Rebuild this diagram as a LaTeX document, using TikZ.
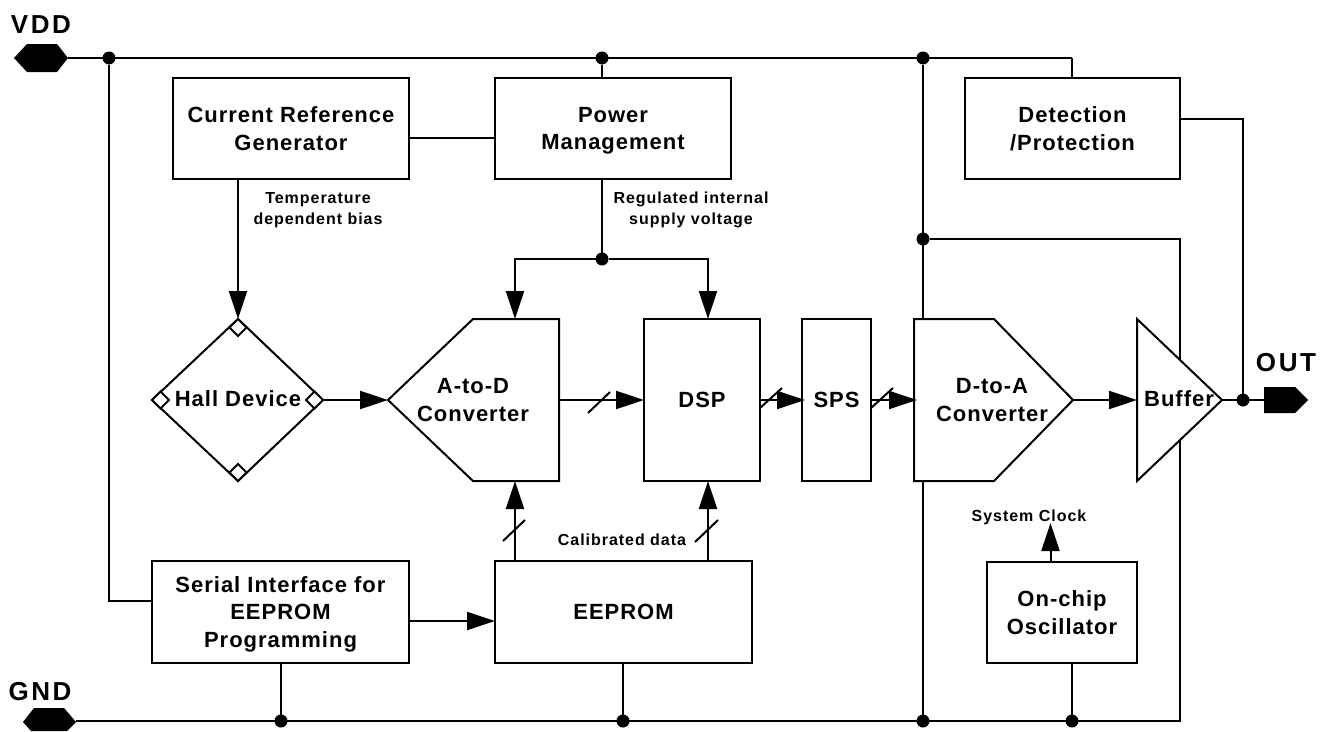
\documentclass[tikz,border=0pt]{standalone}
\usepackage{fontspec}
\setmainfont{Liberation Sans}
\newfontfamily\boxfam{Liberation Sans}[LetterSpace=4.5]
\newfontfamily\notefam{Liberation Sans}[LetterSpace=6]
\newfontfamily\pinfam{Liberation Sans}[LetterSpace=10]
\newcommand{\nodepth}[1]{\raisebox{0pt}[\height][0pt]{#1}}
\usetikzlibrary{arrows.meta,calc}
\tikzset{
  wire/.style={line width=2pt,line cap=butt,line join=miter},
  flow/.style={wire,-{Triangle[length=28pt,width=18pt]}},
  slash/.style={line width=2pt},
  boxnode/.style={draw=black,fill=white,line width=2pt,outer sep=0pt,inner sep=0pt,align=center,
    font=\boxfam\fontsize{22}{27.5}\selectfont\bfseries},
  shapetxt/.style={outer sep=0pt,inner sep=0pt,align=center,font=\boxfam\fontsize{22}{27.5}\selectfont\bfseries},
  outline/.style={draw=black,fill=white,line width=2pt,line join=miter},
  note/.style={inner sep=0pt,align=center,font=\notefam\fontsize{16}{21}\selectfont\bfseries},
  pin/.style={inner sep=0pt,font=\pinfam\fontsize{26}{26}\selectfont\bfseries},
  dot/.style={circle,fill=black,inner sep=0pt,minimum size=13pt,outer sep=0pt},
  small/.style={draw=black,fill=white,line width=2pt,line join=miter},
}
\begin{document}
\begin{tikzpicture}[x=1pt,y=-1pt]
\useasboundingbox (0,0) rectangle (1329,731);
\fill[white] (0,0) rectangle (1329,731);

% junctions and free ends
\node[dot] (j1) at (109,58) {};
\node[dot] (j2) at (602,58) {};
\node[dot] (j3) at (923,58) {};
\coordinate (j4) at (1072,58);
\node[dot] (j5) at (923,239) {};
\node[dot] (j6) at (602,259) {};
\node[dot] (j7) at (281,721) {};
\node[dot] (j8) at (623,721) {};
\node[dot] (j9) at (923,721) {};
\node[dot] (j10) at (1072,721) {};
\node[dot] (j11) at (1243,400) {};
\coordinate (vddp) at (68,58);
\coordinate (gndp) at (76,721);
\coordinate (outp) at (1264,400);
\coordinate (nw) at (1180,239);
\coordinate (ne) at (1180,721);
\coordinate (ck) at (1050.5,523);
\coordinate (hallT) at (238,319);
\coordinate (hallR) at (323,400);
\coordinate (adcL) at (388,400);
\coordinate (adcR) at (559,400);
\coordinate (adcT) at (515,319);
\coordinate (adcB) at (515,481);
\coordinate (dacR) at (1073,400);
\coordinate (dacL) at (914,400);
\coordinate (bufL) at (1137,400);
\coordinate (bufR) at (1222,400);

% background wires that shapes cover
\draw[wire] (vddp) -- (j4);
\draw[wire] (gndp) -- (ne) -- (nw) -- (j5);
\draw[wire] (j3) -- (j9);

% boxes
\node[boxnode,minimum width=236pt,minimum height=101pt] (crg) at (291,128.5) {Current Reference\\Generator};
\node[boxnode,minimum width=236pt,minimum height=101pt] (pm) at (613,128.5) {Power\\\nodepth{Management}};
\node[boxnode,minimum width=215pt,minimum height=101pt] (det) at (1072.5,128.5) {Detection\\/Protection};
\node[boxnode,minimum width=116pt,minimum height=162pt] (dsp) at (702,400) {DSP};
\node[boxnode,minimum width=69pt,minimum height=162pt] (sps) at (836.5,400) {SPS};
\node[boxnode,minimum width=257pt,minimum height=102pt] (ser) at (280.5,612) {Serial Interface for\\EEPROM\\\nodepth{Programming}};
\node[boxnode,minimum width=257pt,minimum height=102pt] (eep) at (623.5,612) {EEPROM};
\node[boxnode,minimum width=150pt,minimum height=101pt] (osc) at (1062,612.5) {On-chip\\Oscillator};

% shapes
\draw[outline] (152,400) -- (238,319) -- (323,400) -- (238,481) -- cycle;
\draw[small] (238,319) -- (246.5,327.5) -- (238,336) -- (229.5,327.5) -- cycle;
\draw[small] (238,481) -- (246.5,472.5) -- (238,464) -- (229.5,472.5) -- cycle;
\draw[small] (152,400) -- (160.5,391.5) -- (169,400) -- (160.5,408.5) -- cycle;
\draw[small] (323,400) -- (314.5,391.5) -- (306,400) -- (314.5,408.5) -- cycle;
\node[shapetxt] (hall) at (238,399) {Hall Device};
\draw[outline] (388,400) -- (473,319) -- (559,319) -- (559,481) -- (473,481) -- cycle;
\node[shapetxt] (adc) at (473,400) {A-to-D\\Converter};
\draw[outline] (914,319) -- (994,319) -- (1073,400) -- (994,481) -- (914,481) -- cycle;
\node[shapetxt] (dac) at (992,400) {D-to-A\\Converter};
\draw[outline] (1137,319) -- (1222,400) -- (1137,481) -- cycle;
\node[shapetxt] (buf) at (1179,399) {Buffer};

% ports
\fill (14,58) -- (27,44) -- (57,44) -- (68,58) -- (57,72) -- (27,72) -- cycle;
\fill (23,722) -- (34,708) -- (64,708) -- (76,722) -- (67,731) -- (31,731) -- cycle;
\fill (1264,387) -- (1295,387) -- (1308,400) -- (1295,413) -- (1264,413) -- cycle;
\node[pin] (vdd) at (41,25) {VDD};
\node[pin] (gnd) at (40,692) {GND};
\node[pin] (out) at (1286,363) {OUT};

% connectors
\draw[wire] (j1) |- ($(ser.north west)!0.39!(ser.south west)$);
\draw[wire] (j2) -- (j2 |- pm.north);
\draw[wire] (j4) -- (j4 |- det.north);
\draw[wire] (crg.east |- 0,138) -- (pm.west |- 0,138);
\draw[wire] (det.east |- 0,119) -| (j11);
\draw[flow] (crg.south -| hallT) -- (hallT);
\draw[wire] (pm.south -| j6) -- (j6);
\draw[flow] (j6) -| (adcT);
\draw[flow] (j6) -| (dsp.north -| 708,0);
\draw[flow] (hallR) -- (adcL);
\draw[flow] (adcR) -- (dsp.west);
\draw[flow,shorten >=-3pt] (dsp.east) -- (sps.west);
\draw[flow,shorten >=-3pt] (sps.east) -- (dacL);
\draw[flow] (dacR) -- (bufL);
\draw[wire] (bufR) -- (outp);
\draw[flow] (eep.north -| adcB) -- (adcB);
\draw[flow] (eep.north -| 708,0) -- (dsp.south -| 708,0);
\draw[flow] (ser.east |- 0,621) -- (eep.west |- 0,621);
\draw[wire] (ser.south -| j7) -- (j7);
\draw[wire] (eep.south -| j8) -- (j8);
\draw[wire] (osc.south -| j10) -- (j10);
\node[note] (clk) at (1029,517) {System Clock};
\draw[flow] (osc.north -| ck) -- (ck);

% bus width slashes
\draw[slash] (588,413) -- (610,392);
\draw[slash] (760,408) -- (782,388);
\draw[slash] (871,408) -- (893,388);
\draw[slash] (503,541) -- (525,520);
\draw[slash] (695,542) -- (718,520);

% labels
\node[note] (l1) at (318,210) {Temperature\\dependent bias};
\node[note] (l2) at (691,209.5) {Regulated internal\\supply voltage};
\node[note] (l3) at (622,540) {Calibrated data};
\end{tikzpicture}
\end{document}
